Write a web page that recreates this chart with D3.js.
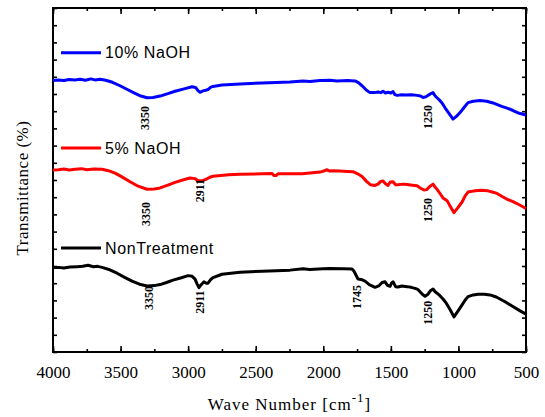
<!DOCTYPE html>
<html>
<head>
<meta charset="utf-8">
<script src="https://cdn.jsdelivr.net/npm/d3@7"></script>
<style>
  body { margin: 0; background: #fff; }
  svg { display: block; }
</style>
</head>
<body>
<div id="chart"></div>
<script>
// wavenumber (cm-1) and transmittance (arbitrary %, offset per sample)
const blueData = [
  [4000, 78.9], [3960, 79.1], [3920, 78.9], [3880, 79.2], [3837, 79.1], [3800, 79.3], [3760, 79.0],
  [3720, 79.4], [3690, 79.1], [3652, 79.3], [3610, 79.0], [3560, 78.4], [3504, 77.4], [3450, 76.3],
  [3393, 75.2], [3350, 74.4], [3304, 73.9], [3260, 74.0], [3208, 74.4], [3150, 75.1], [3097, 75.8],
  [3030, 76.5], [2971, 77.1], [2945, 76.9], [2925, 75.9], [2912, 75.5], [2890, 75.9], [2870, 76.1],
  [2853, 76.3], [2835, 76.9], [2816, 77.2], [2750, 77.6], [2616, 77.9], [2400, 78.3], [2246, 78.5],
  [2150, 78.8], [2100, 78.6], [2024, 78.9], [1950, 79.0], [1900, 78.8], [1820, 78.9], [1765, 78.8],
  [1740, 78.3], [1713, 77.4], [1680, 76.1], [1654, 75.4], [1620, 75.4], [1595, 75.6], [1575, 75.4],
  [1558, 75.8], [1540, 75.3], [1521, 75.5], [1500, 75.3], [1484, 75.7], [1470, 74.8], [1454, 74.6],
  [1420, 74.8], [1395, 74.7], [1350, 74.8], [1306, 74.6], [1280, 74.4], [1262, 74.0], [1240, 74.2],
  [1225, 74.6], [1200, 75.2], [1188, 75.4], [1175, 74.6], [1166, 74.2], [1144, 73.4], [1120, 72.3],
  [1099, 71.0], [1070, 69.4], [1040, 67.7], [1015, 68.5], [988, 69.6], [960, 71.0], [929, 72.5],
  [890, 72.9], [840, 73.1], [790, 72.9], [744, 72.4], [680, 71.4], [640, 70.9], [596, 70.2],
  [550, 69.4], [500, 68.9]
];

const redData = [
  [4000, 52.9], [3960, 53.0], [3920, 53.2], [3880, 52.9], [3837, 53.1], [3790, 53.3], [3750, 53.0],
  [3700, 53.2], [3637, 53.1], [3590, 52.7], [3541, 52.0], [3490, 50.9], [3430, 49.5], [3370, 48.2],
  [3304, 47.3], [3250, 47.4], [3208, 47.7], [3150, 48.5], [3097, 49.3], [3040, 50.0], [2986, 50.6],
  [2950, 50.4], [2930, 49.9], [2912, 49.7], [2890, 49.9], [2868, 50.2], [2840, 50.8], [2816, 51.1],
  [2700, 51.5], [2616, 51.7], [2450, 51.8], [2379, 51.9], [2365, 51.3], [2350, 51.3], [2335, 51.8],
  [2250, 51.8], [2157, 51.8], [2080, 52.1], [2024, 52.3], [1990, 52.7], [1972, 53.0], [1955, 52.6],
  [1930, 52.7], [1880, 52.6], [1820, 52.5], [1780, 52.4], [1745, 51.8], [1713, 51.0], [1680, 49.6],
  [1650, 48.6], [1620, 48.4], [1595, 48.8], [1575, 49.6], [1558, 49.7], [1540, 48.9], [1521, 48.4],
  [1505, 49.4], [1484, 49.5], [1465, 48.6], [1447, 48.6], [1410, 48.8], [1380, 48.7], [1340, 48.5],
  [1306, 48.3], [1280, 47.6], [1255, 47.1], [1235, 47.2], [1210, 48.2], [1188, 48.8], [1170, 47.8],
  [1158, 47.3], [1135, 46.0], [1114, 44.8], [1084, 44.0], [1060, 42.3], [1033, 40.5], [1005, 41.9],
  [973, 43.6], [950, 45.4], [929, 46.5], [900, 46.7], [877, 46.9], [830, 47.0], [788, 46.9],
  [750, 46.5], [714, 46.1], [680, 45.3], [640, 44.4], [600, 43.8], [550, 42.8], [500, 41.7]
];

const blackData = [
  [4000, 24.5], [3960, 24.6], [3920, 24.4], [3874, 24.7], [3820, 24.8], [3780, 24.9], [3741, 25.2],
  [3700, 24.8], [3670, 24.9], [3637, 24.6], [3580, 23.9], [3526, 22.9], [3470, 21.7], [3415, 20.6],
  [3360, 19.7], [3304, 19.2], [3250, 19.3], [3208, 19.6], [3160, 20.2], [3112, 20.9], [3050, 21.6],
  [3001, 22.2], [2970, 22.0], [2949, 21.2], [2935, 19.9], [2920, 18.7], [2905, 19.5], [2883, 20.4],
  [2865, 20.0], [2853, 20.0], [2835, 21.0], [2816, 21.6], [2750, 22.6], [2616, 23.2], [2450, 23.5],
  [2246, 23.8], [2150, 24.2], [2100, 24.0], [2000, 24.2], [1950, 24.3], [1850, 24.2], [1787, 24.1],
  [1775, 23.6], [1765, 22.9], [1743, 21.2], [1720, 21.1], [1691, 20.6], [1660, 19.6], [1617, 18.8],
  [1590, 19.2], [1565, 20.2], [1543, 20.4], [1525, 19.4], [1506, 19.1], [1495, 20.0], [1484, 20.4],
  [1465, 19.0], [1447, 18.9], [1420, 19.2], [1380, 19.0], [1350, 18.8], [1321, 18.5], [1300, 18.2],
  [1284, 17.5], [1265, 16.7], [1247, 16.2], [1225, 16.8], [1205, 17.9], [1188, 18.3], [1172, 17.5],
  [1158, 17.1], [1135, 16.3], [1114, 15.4], [1090, 14.2], [1060, 12.2], [1033, 10.2], [1005, 11.8],
  [973, 13.7], [950, 15.1], [929, 16.1], [890, 16.6], [855, 16.8], [810, 16.8], [766, 16.6],
  [720, 16.0], [655, 14.6], [600, 13.3], [550, 12.1], [500, 11.0]
];

const seriesNames = ["10% NaOH", "5% NaOH", "NonTreatment"];
const seriesColors = ["#0000ff", "#ff0000", "#000000"];

// peak labels: text, drawn at wavenumber, level
const blueLabels = [["3350", 3320, 68.0], ["1250", 1225, 68.3]];
const redLabels = [["3350", 3310, 40.1], ["2911", 2912, 46.9], ["1250", 1225, 41.3]];
const blackLabels = [["3350", 3290, 15.7], ["2911", 2912, 14.5], ["1745", 1750, 16.0], ["1250", 1225, 11.4]];

// legend entries sit at these levels
const legendLevels = [87.0, 59.3, 30.2];

const xTicks = [4000, 3500, 3000, 2500, 2000, 1500, 1000, 500];

const width = 545, height = 417;
const margin = { top: 8, right: 19, bottom: 65, left: 53 };
const innerWidth = width - margin.left - margin.right;
const innerHeight = height - margin.top - margin.bottom;

const svg = d3.select("#chart").append("svg")
    .attr("width", width)
    .attr("height", height);

const chart = svg.append("g")
    .attr("transform", `translate(${margin.left},${margin.top})`);

const xScale = d3.scaleLinear().domain([4000, 500]).range([0, innerWidth]);
const yScale = d3.scaleLinear().domain([0, 100]).range([innerHeight, 0]);

// axes with inward ticks
const xMinor = d3.range(500, 4001, 250);
const yMinor = d3.range(0, 101, 5);

chart.append("g")
    .attr("transform", `translate(0,${innerHeight})`)
    .call(d3.axisBottom(xScale).tickValues(xMinor).tickSize(-3).tickFormat(""))
    .call(g => g.select(".domain").remove());
chart.append("g")
    .attr("class", "x-axis")
    .attr("transform", `translate(0,${innerHeight})`)
    .call(d3.axisBottom(xScale).tickValues(xTicks).tickSize(-6).tickPadding(14).tickFormat(d3.format("d")))
    .call(g => g.select(".domain").remove());
chart.append("g")
    .call(d3.axisTop(xScale).tickValues(xMinor).tickSize(-3).tickFormat(""))
    .call(g => g.select(".domain").remove());
chart.append("g")
    .call(d3.axisTop(xScale).tickValues(xTicks).tickSize(-6).tickFormat(""))
    .call(g => g.select(".domain").remove());
chart.append("g")
    .call(d3.axisLeft(yScale).tickValues(yMinor).tickSize(-4).tickFormat(""))
    .call(g => g.select(".domain").remove());
chart.append("g")
    .attr("transform", `translate(${innerWidth},0)`)
    .call(d3.axisRight(yScale).tickValues(yMinor).tickSize(-4).tickFormat(""))
    .call(g => g.select(".domain").remove());

chart.selectAll(".tick line").attr("stroke", "#000").attr("stroke-width", 1.6);

chart.select(".x-axis").selectAll("text")
    .attr("fill", "#000")
    .style("font-family", "'Liberation Serif', 'Times New Roman', serif")
    .style("font-size", "17px");

// frame
chart.append("rect")
    .attr("width", innerWidth)
    .attr("height", innerHeight)
    .attr("fill", "none")
    .attr("stroke", "#000")
    .attr("stroke-width", 2);

const line = d3.line()
    .x(d => xScale(d[0]))
    .y(d => yScale(d[1]));

const allSeries = [blueData, redData, blackData];
const allLabels = [blueLabels, redLabels, blackLabels];

allSeries.forEach((data, i) => {
    chart.append("path")
        .datum(data)
        .attr("d", line)
        .attr("fill", "none")
        .attr("stroke", seriesColors[i])
        .attr("stroke-width", 3)
        .attr("stroke-linejoin", "round");
});

allLabels.forEach(labels => {
    labels.forEach(([txt, wn, lvl]) => {
        chart.append("text")
            .attr("transform", `translate(${xScale(wn)},${yScale(lvl)}) rotate(-90)`)
            .attr("text-anchor", "middle")
            .attr("dy", "0.35em")
            .style("font-family", "'Liberation Serif', 'Times New Roman', serif")
            .style("font-weight", "bold")
            .style("font-size", "12px")
            .text(txt);
    });
});

// legends
seriesNames.forEach((name, i) => {
    const y = yScale(legendLevels[i]);
    chart.append("line")
        .attr("x1", 8).attr("x2", 48)
        .attr("y1", y).attr("y2", y)
        .attr("stroke", seriesColors[i])
        .attr("stroke-width", 3);
    chart.append("text")
        .attr("x", 52)
        .attr("y", y)
        .attr("dy", "0.36em")
        .style("font-family", "'Liberation Sans', Arial, sans-serif")
        .style("font-size", "16px")
        .style("letter-spacing", "0.6px")
        .text(name);
});

// axis titles
svg.append("text")
    .attr("x", margin.left + innerWidth / 2)
    .attr("y", 410)
    .attr("text-anchor", "middle")
    .style("font-family", "'Liberation Serif', 'Times New Roman', serif")
    .style("font-size", "17px")
    .style("letter-spacing", "1px")
    .call(t => {
        t.append("tspan").text("Wave Number [cm");
        t.append("tspan").attr("dy", -8).style("font-size", "13px").text("-1");
        t.append("tspan").attr("dy", 8).text("]");
    });

svg.append("text")
    .attr("transform", `translate(28,${margin.top + innerHeight / 2 + 8}) rotate(-90)`)
    .attr("text-anchor", "middle")
    .style("font-family", "'Liberation Serif', 'Times New Roman', serif")
    .style("font-size", "17px")
    .style("letter-spacing", "0.5px")
    .text("Transmittance (%)");
</script>
</body>
</html>
